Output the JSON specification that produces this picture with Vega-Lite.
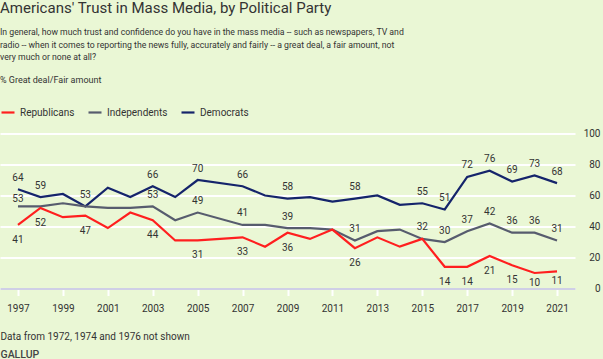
{
  "$schema": "https://vega.github.io/schema/vega-lite/v6.json",
  "autosize": "none",
  "width": 575,
  "height": 155,
  "padding": {"left": 0, "top": 133.5, "right": 28, "bottom": 70.5},
  "background": "#eaf7d5",
  "config": {
    "font": "Roboto",
    "view": {"stroke": null}
  },
  "title": {
    "text": "Americans' Trust in Mass Media, by Political Party",
    "subtitle": [
      "In general, how much trust and confidence do you have in the mass media -- such as newspapers, TV and",
      "radio -- when it comes to reporting the news fully, accurately and fairly -- a great deal, a fair amount, not",
      "very much or none at all?"
    ],
    "anchor": "start",
    "frame": "group",
    "offset": 14,
    "fontSize": 15,
    "fontWeight": "normal",
    "color": "#333333",
    "subtitleFontSize": 8.7,
    "subtitleColor": "#333333",
    "subtitleLineHeight": 12.7,
    "subtitlePadding": 12
  },
  "data": {
    "values": [
      {"year": 1997, "party": "Democrats", "pct": 64},
      {"year": 1998, "party": "Democrats", "pct": 59},
      {"year": 1999, "party": "Democrats", "pct": 61},
      {"year": 2000, "party": "Democrats", "pct": 53},
      {"year": 2001, "party": "Democrats", "pct": 65},
      {"year": 2002, "party": "Democrats", "pct": 59},
      {"year": 2003, "party": "Democrats", "pct": 66},
      {"year": 2004, "party": "Democrats", "pct": 59},
      {"year": 2005, "party": "Democrats", "pct": 70},
      {"year": 2007, "party": "Democrats", "pct": 66},
      {"year": 2008, "party": "Democrats", "pct": 60},
      {"year": 2009, "party": "Democrats", "pct": 58},
      {"year": 2010, "party": "Democrats", "pct": 59},
      {"year": 2011, "party": "Democrats", "pct": 56},
      {"year": 2012, "party": "Democrats", "pct": 58},
      {"year": 2013, "party": "Democrats", "pct": 60},
      {"year": 2014, "party": "Democrats", "pct": 54},
      {"year": 2015, "party": "Democrats", "pct": 55},
      {"year": 2016, "party": "Democrats", "pct": 51},
      {"year": 2017, "party": "Democrats", "pct": 72},
      {"year": 2018, "party": "Democrats", "pct": 76},
      {"year": 2019, "party": "Democrats", "pct": 69},
      {"year": 2020, "party": "Democrats", "pct": 73},
      {"year": 2021, "party": "Democrats", "pct": 68},
      {"year": 1997, "party": "Independents", "pct": 53},
      {"year": 1998, "party": "Independents", "pct": 53},
      {"year": 1999, "party": "Independents", "pct": 55},
      {"year": 2000, "party": "Independents", "pct": 53},
      {"year": 2001, "party": "Independents", "pct": 52},
      {"year": 2002, "party": "Independents", "pct": 52},
      {"year": 2003, "party": "Independents", "pct": 53},
      {"year": 2004, "party": "Independents", "pct": 44},
      {"year": 2005, "party": "Independents", "pct": 49},
      {"year": 2007, "party": "Independents", "pct": 41},
      {"year": 2008, "party": "Independents", "pct": 41},
      {"year": 2009, "party": "Independents", "pct": 39},
      {"year": 2010, "party": "Independents", "pct": 39},
      {"year": 2011, "party": "Independents", "pct": 38},
      {"year": 2012, "party": "Independents", "pct": 31},
      {"year": 2013, "party": "Independents", "pct": 37},
      {"year": 2014, "party": "Independents", "pct": 38},
      {"year": 2015, "party": "Independents", "pct": 32},
      {"year": 2016, "party": "Independents", "pct": 30},
      {"year": 2017, "party": "Independents", "pct": 37},
      {"year": 2018, "party": "Independents", "pct": 42},
      {"year": 2019, "party": "Independents", "pct": 36},
      {"year": 2020, "party": "Independents", "pct": 36},
      {"year": 2021, "party": "Independents", "pct": 31},
      {"year": 1997, "party": "Republicans", "pct": 41},
      {"year": 1998, "party": "Republicans", "pct": 52},
      {"year": 1999, "party": "Republicans", "pct": 46},
      {"year": 2000, "party": "Republicans", "pct": 47},
      {"year": 2001, "party": "Republicans", "pct": 39},
      {"year": 2002, "party": "Republicans", "pct": 49},
      {"year": 2003, "party": "Republicans", "pct": 44},
      {"year": 2004, "party": "Republicans", "pct": 31},
      {"year": 2005, "party": "Republicans", "pct": 31},
      {"year": 2007, "party": "Republicans", "pct": 33},
      {"year": 2008, "party": "Republicans", "pct": 27},
      {"year": 2009, "party": "Republicans", "pct": 36},
      {"year": 2010, "party": "Republicans", "pct": 32},
      {"year": 2011, "party": "Republicans", "pct": 38},
      {"year": 2012, "party": "Republicans", "pct": 26},
      {"year": 2013, "party": "Republicans", "pct": 33},
      {"year": 2014, "party": "Republicans", "pct": 27},
      {"year": 2015, "party": "Republicans", "pct": 32},
      {"year": 2016, "party": "Republicans", "pct": 14},
      {"year": 2017, "party": "Republicans", "pct": 14},
      {"year": 2018, "party": "Republicans", "pct": 21},
      {"year": 2019, "party": "Republicans", "pct": 15},
      {"year": 2020, "party": "Republicans", "pct": 10},
      {"year": 2021, "party": "Republicans", "pct": 11}
    ]
  },
  "encoding": {
    "x": {
      "field": "year",
      "type": "quantitative",
      "scale": {"domain": [1996.2, 2021.8], "nice": false, "zero": false},
      "axis": {
        "values": [1997, 1999, 2001, 2003, 2005, 2007, 2009, 2011, 2013, 2015, 2017, 2019, 2021],
        "format": "d",
        "grid": false,
        "zindex": 1,
        "domainColor": "#cfcfe6",
        "domainWidth": 2,
        "tickColor": "#ffffff",
        "tickWidth": 2,
        "tickSize": 7,
        "labelPadding": 7.5,
        "labelFontSize": 10,
        "labelColor": "#333333",
        "labelFlush": false,
        "title": "Data from 1972, 1974 and 1976 not shown",
        "titleFontSize": 10,
        "titleFontWeight": "normal",
        "titleColor": "#333333",
        "titleAnchor": "start",
        "titleAlign": "left",
        "titleBaseline": "middle",
        "titleX": 0,
        "titleY": 48
      }
    },
    "y": {
      "field": "pct",
      "type": "quantitative",
      "scale": {"domain": [0, 100], "nice": false},
      "axis": {
        "orient": "right",
        "values": [0, 20, 40, 60, 80, 100],
        "grid": true,
        "gridColor": "#ffffff",
        "gridWidth": 2,
        "gridOpacity": 1,
        "domain": false,
        "ticks": false,
        "labelAlign": "right",
        "labelBaseline": "middle",
        "labelPadding": 25,
        "labelFontSize": 10,
        "labelColor": "#333333",
        "title": "GALLUP",
        "titleAngle": 0,
        "titleX": -575,
        "titleY": 220.5,
        "titleAlign": "left",
        "titleBaseline": "middle",
        "titleFontSize": 10.5,
        "titleFontWeight": 500,
        "titleColor": "#444444"
      }
    },
    "color": {
      "field": "party",
      "type": "nominal",
      "scale": {
        "domain": ["Republicans", "Independents", "Democrats"],
        "range": ["#ff1f1f", "#575c6e", "#15246b"]
      },
      "legend": {
        "title": "% Great deal/Fair amount",
        "titleFontSize": 9,
        "titleFontWeight": "normal",
        "titleColor": "#333333",
        "titleAnchor": "start",
        "titlePadding": 19.5,
        "orient": "none",
        "legendX": 0,
        "legendY": -57.5,
        "direction": "horizontal",
        "symbolType": "stroke",
        "symbolSize": 169,
        "symbolStrokeWidth": 2.2,
        "labelFontSize": 10,
        "labelColor": "#333333",
        "labelOffset": 4,
        "columnPadding": 9
      }
    }
  },
  "layer": [
    {
      "mark": {"type": "line", "strokeWidth": 2.2}
    },
    {
      "transform": [
        {"filter": "(datum.party == 'Democrats' && indexof([1997,1998,2000,2003,2005,2007,2009,2012,2015,2016,2017,2018,2019,2020,2021], datum.year) >= 0) || (datum.party == 'Independents' && indexof([2003,2005,2007,2009,2012,2015,2016,2017,2018,2019,2020,2021], datum.year) >= 0)"}
      ],
      "mark": {"type": "text", "dy": -11.5, "fontSize": 10, "color": "#333333", "baseline": "middle"},
      "encoding": {
        "text": {"field": "pct", "type": "quantitative"},
        "color": {"value": "#333333"}
      }
    },
    {
      "transform": [
        {"filter": "datum.party == 'Independents' && datum.year == 1997"}
      ],
      "mark": {"type": "text", "dy": -7, "fontSize": 10, "color": "#333333", "baseline": "middle"},
      "encoding": {
        "text": {"field": "pct", "type": "quantitative"},
        "color": {"value": "#333333"}
      }
    },
    {
      "transform": [
        {"filter": "datum.party == 'Republicans' && indexof([1997,1998,2000,2003,2005,2007,2009,2012,2016,2017,2018,2019], datum.year) >= 0"}
      ],
      "mark": {"type": "text", "dy": 15, "fontSize": 10, "color": "#333333", "baseline": "middle"},
      "encoding": {
        "text": {"field": "pct", "type": "quantitative"},
        "color": {"value": "#333333"}
      }
    },
    {
      "transform": [
        {"filter": "datum.party == 'Republicans' && (datum.year == 2020 || datum.year == 2021)"}
      ],
      "mark": {"type": "text", "dy": 9.5, "fontSize": 10, "color": "#333333", "baseline": "middle"},
      "encoding": {
        "text": {"field": "pct", "type": "quantitative"},
        "color": {"value": "#333333"}
      }
    }
  ]
}
